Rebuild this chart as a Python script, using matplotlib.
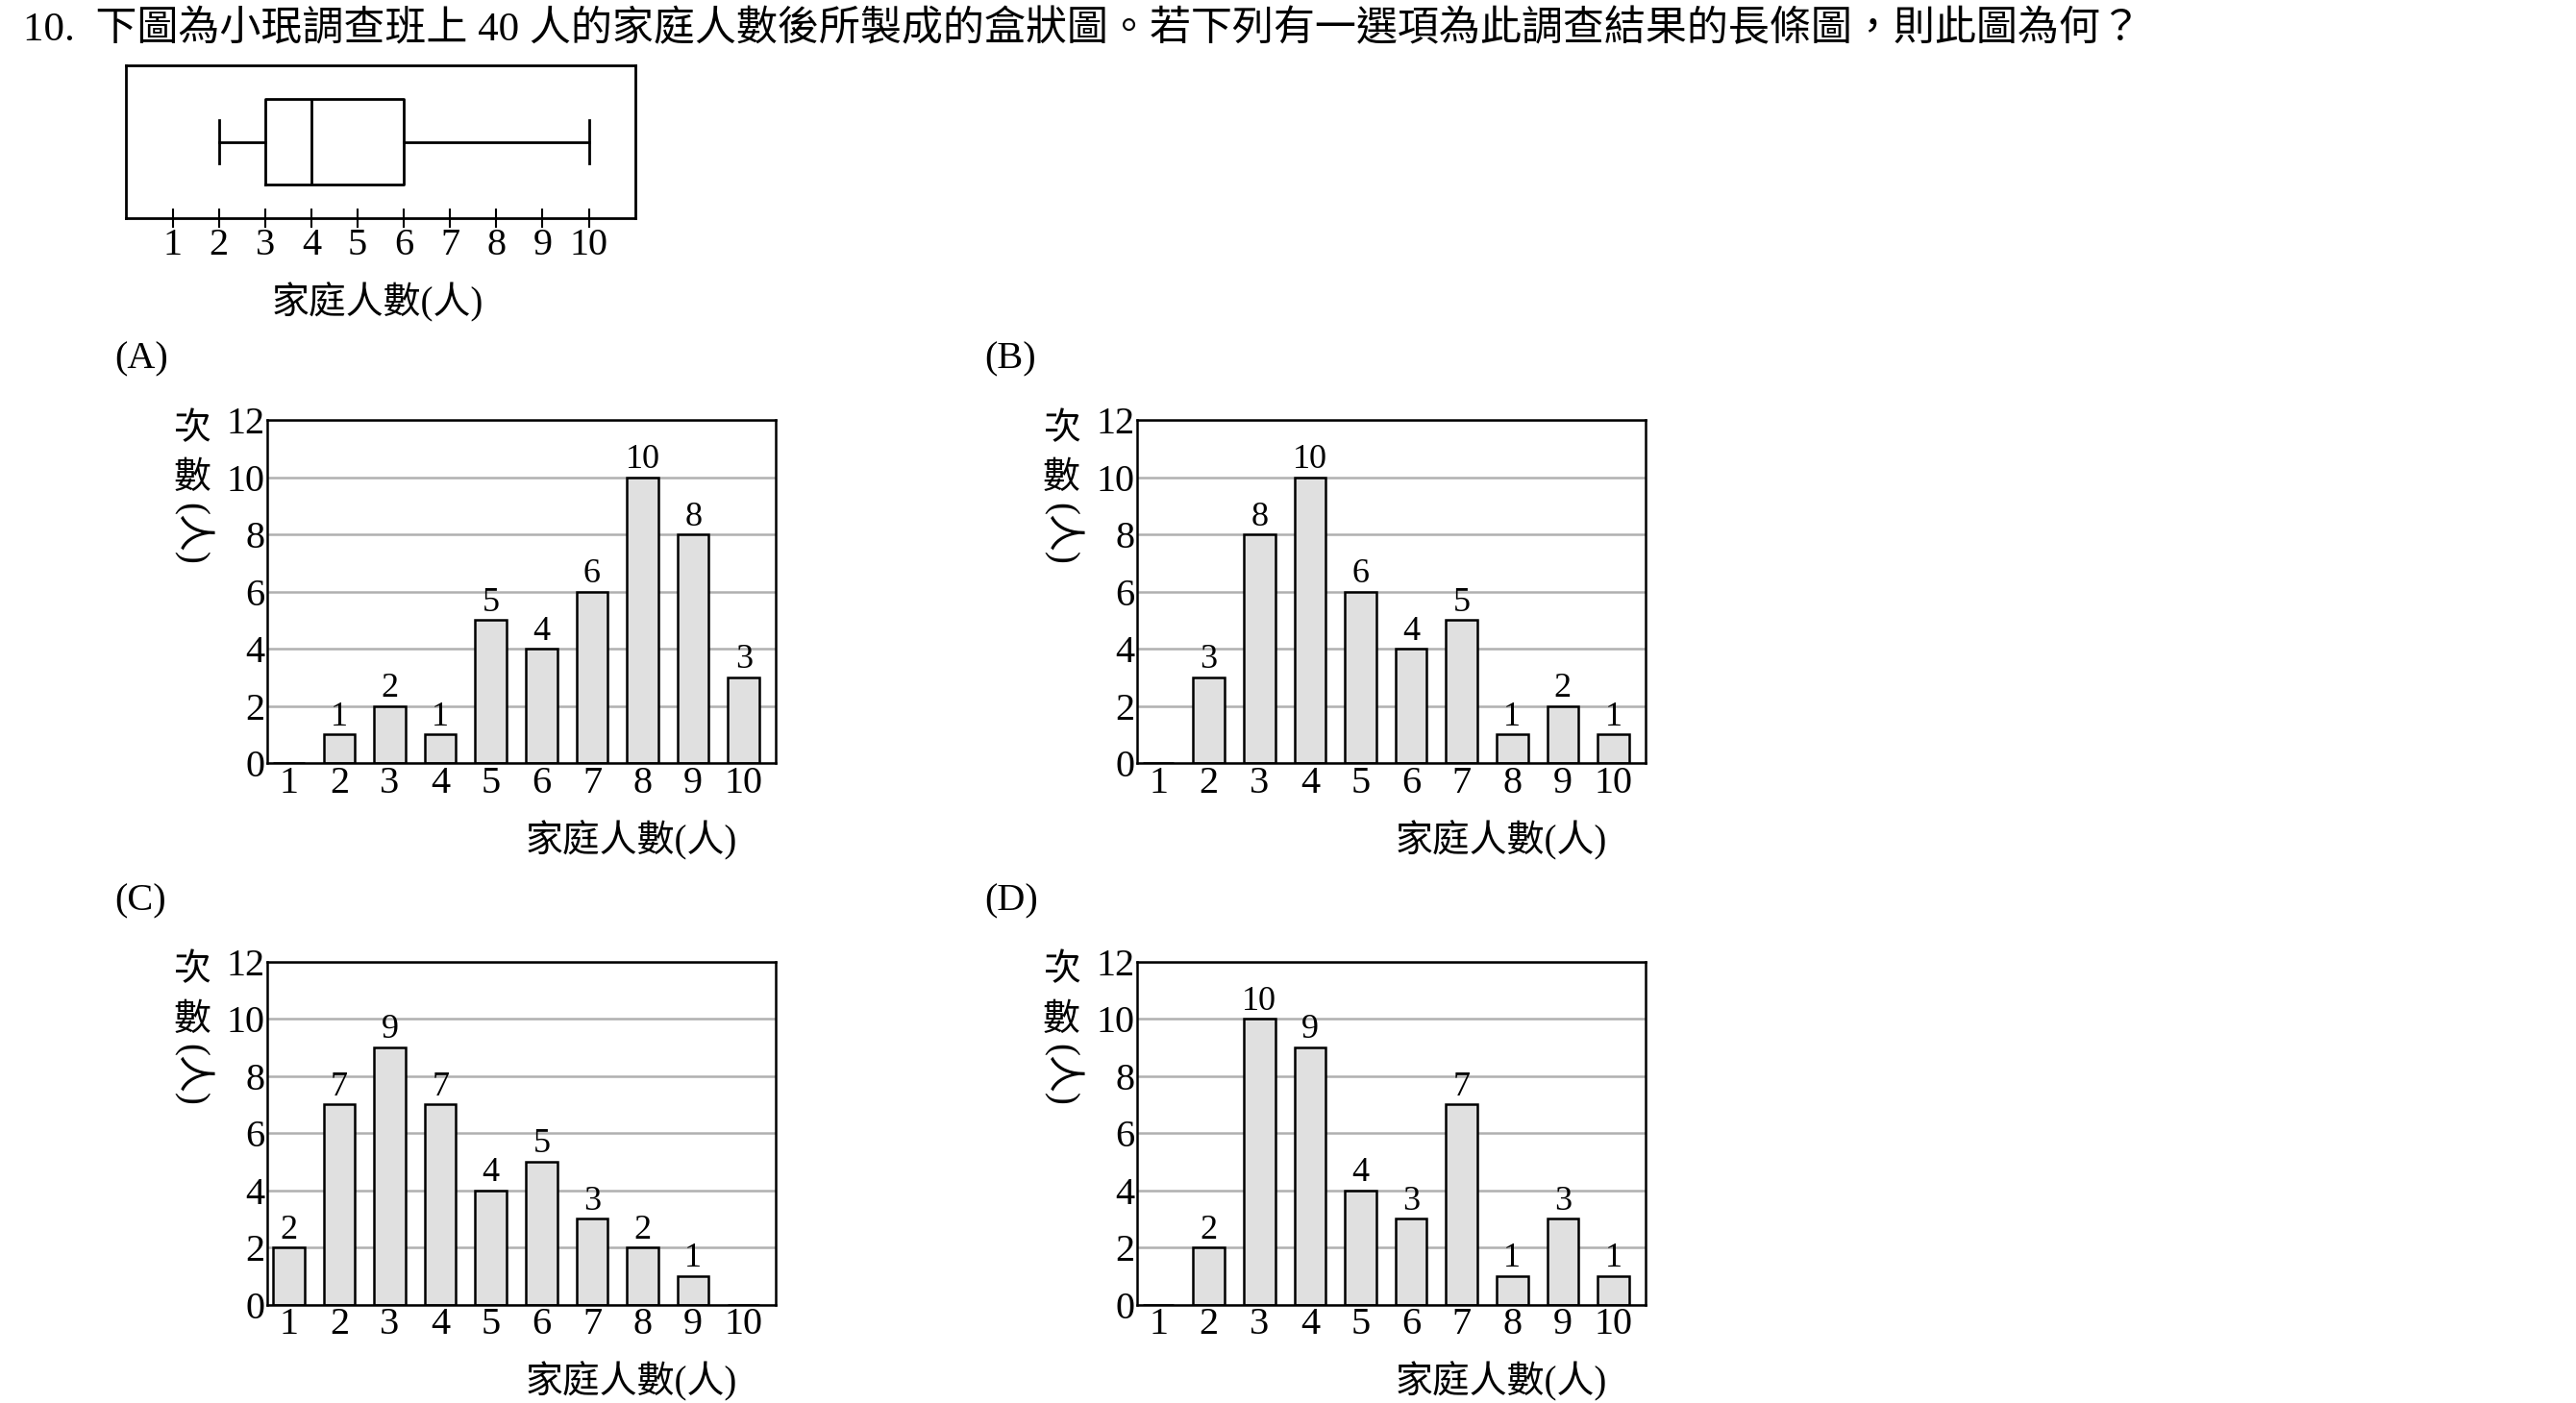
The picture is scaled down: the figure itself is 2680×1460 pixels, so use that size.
import matplotlib
matplotlib.use("Agg")
import matplotlib.pyplot as plt

plt.rcParams['font.family'] = ['Liberation Serif', 'Noto Sans CJK TC']

categories = [1, 2, 3, 4, 5, 6, 7, 8, 9, 10]
counts_a = [0, 1, 2, 1, 5, 4, 6, 10, 8, 3]
counts_b = [0, 3, 8, 10, 6, 4, 5, 1, 2, 1]
counts_c = [2, 7, 9, 7, 4, 5, 3, 2, 1, 0]
counts_d = [0, 2, 10, 9, 4, 3, 7, 1, 3, 1]
box_stats = {'whislo': 2, 'q1': 3, 'med': 4, 'q3': 6, 'whishi': 10}
yticks = [0, 2, 4, 6, 8, 10, 12]

W, H = 1570.0, 855.0
fig = plt.figure(figsize=(26.8, 14.6), dpi=100)

def fx(x):
    return x / W

def fy(y):
    return 1 - y / H

fig.text(fx(14), fy(18), "10.  下圖為小珉調查班上 40 人的家庭人數後所製成的盒狀圖。若下列有一選項為此調查結果的長條圖，則此圖為何？",
         fontsize=31, va='center', ha='left')

# box plot
bx = fig.add_axes([fx(77), fy(133), 310 / W, 93 / H])
bx.bxp([dict(box_stats, fliers=[])], vert=False, positions=[0], widths=0.62,
       showfliers=False, medianprops=dict(color='black', lw=2),
       boxprops=dict(lw=2), whiskerprops=dict(lw=2), capprops=dict(lw=2))
bx.set_xlim(0, 11)
bx.set_ylim(-0.55, 0.55)
bx.set_yticks([])
bx.set_xticks(categories)
bx.tick_params(axis='x', direction='inout', length=14, width=1.5, labelsize=29, pad=0)
for s in bx.spines.values():
    s.set_linewidth(2)
fig.text(fx(230), fy(184), "家庭人數(人)", fontsize=28, ha='center', va='center')

panels = [("(A)", counts_a, 0, 0), ("(B)", counts_b, 530, 0),
          ("(C)", counts_c, 0, 330), ("(D)", counts_d, 530, 330)]
for label, counts, dx, dy in panels:
    ax = fig.add_axes([fx(163 + dx), fy(465 + dy), 310 / W, 209 / H])
    ax.set_axisbelow(True)
    ax.yaxis.grid(True, color='#b0b0b0', lw=1.8)
    ax.bar(categories, counts, width=0.62, color='#e0e0e0', edgecolor='black', lw=1.8)
    for c, v in zip(categories, counts):
        if v > 0:
            ax.text(c, v + 0.05, str(v), ha='center', va='bottom', fontsize=26)
    ax.set_xlim(0.58, 10.64)
    ax.set_ylim(0, 12)
    ax.set_xticks(categories)
    ax.set_yticks(yticks)
    ax.tick_params(length=0, labelsize=29, pad=2)
    for s in ax.spines.values():
        s.set_linewidth(1.8)
    fig.text(fx(70 + dx), fy(219 + dy), label, fontsize=29, ha='left', va='center')
    fig.text(fx(385 + dx), fy(512 + dy), "家庭人數(人)", fontsize=28, ha='center', va='center')
    fig.text(fx(117 + dx), fy(262 + dy), "次", fontsize=28, ha='center', va='center')
    fig.text(fx(117 + dx), fy(292 + dy), "數", fontsize=28, ha='center', va='center')
    fig.text(fx(117 + dx), fy(325 + dy), "(人)", fontsize=28, ha='center', va='center', rotation=-90)

fig.savefig("out.png", dpi=100, facecolor='white')
